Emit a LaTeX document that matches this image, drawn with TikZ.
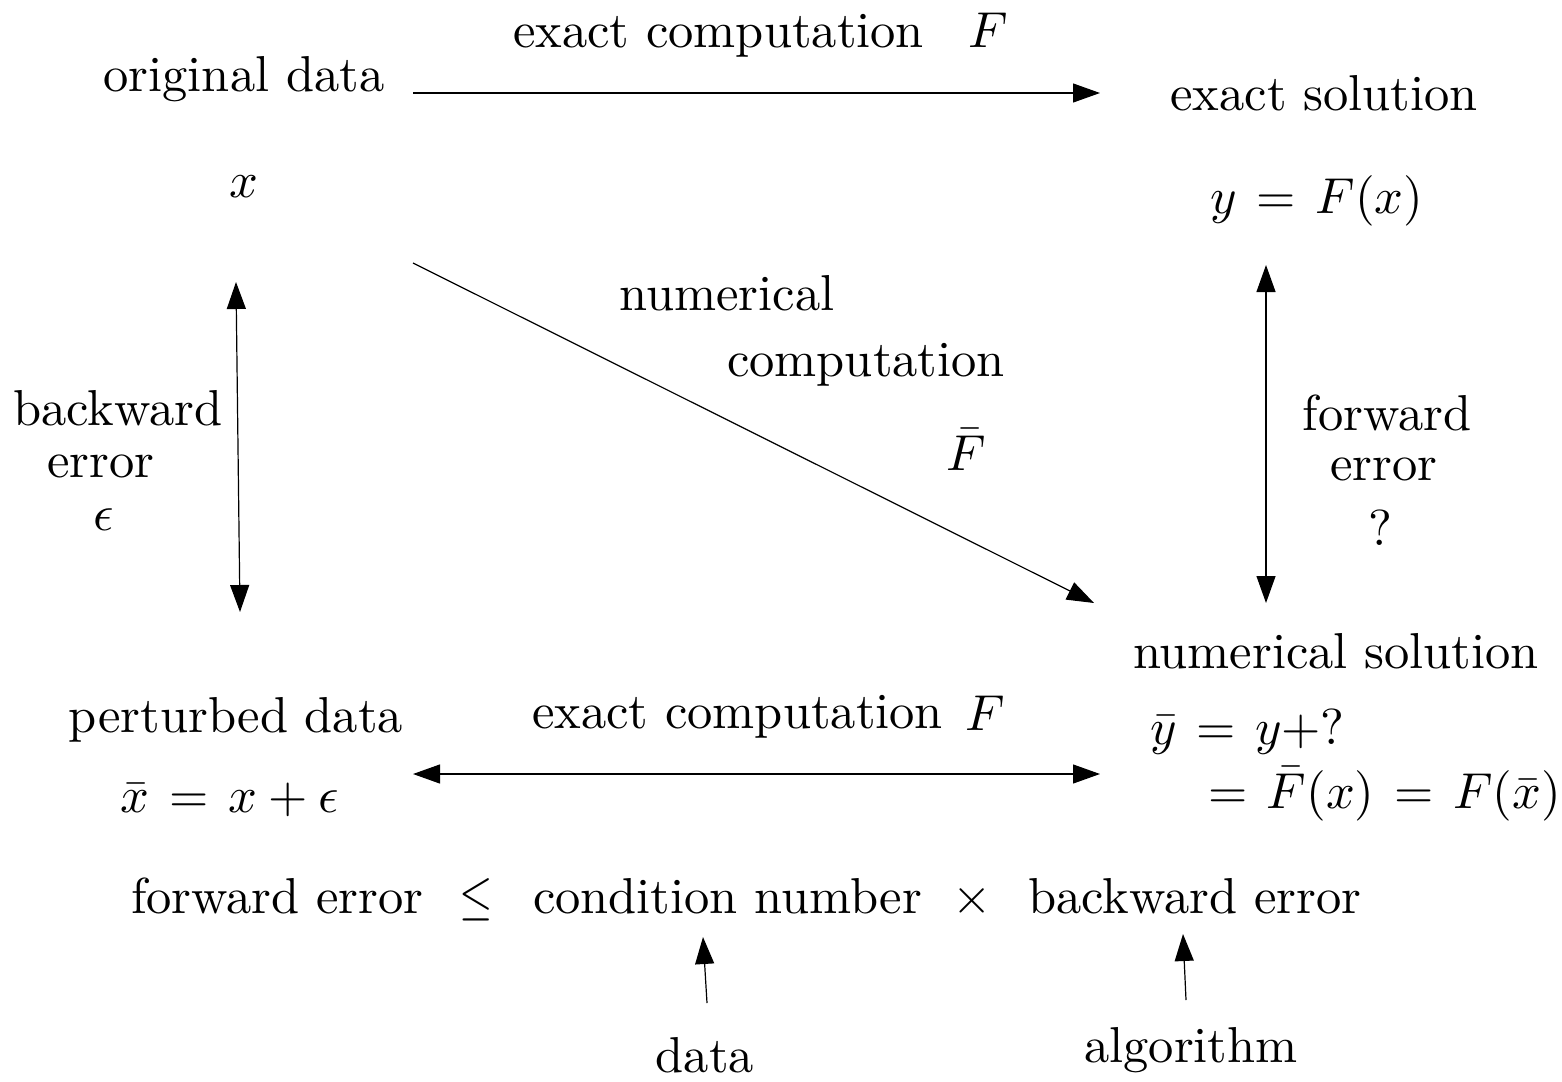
\documentclass[tikz,border=0pt]{standalone}
\usetikzlibrary{arrows.meta}
\thickmuskip=7mu plus 5mu
\begin{document}
\begin{tikzpicture}[x=1pt,y=-1pt,
  lbl/.style={inner sep=0pt, outer sep=0pt, scale=5.05, anchor=base},
  lblw/.style={lbl, anchor=base west},
  tip/.tip={Triangle[length=27pt,width=19pt]},
  conn/.style={line width=1.2pt, -tip},
  dconn/.style={line width=1.2pt, tip-tip}]
\useasboundingbox (0,0) rectangle (1562,1081);
% labels
\node[lbl] (od) at (244,92) {original data};
\node[lbl] (x) at (244,197) {$x$};
\node[lblw] (ec1) at (513,48) {exact computation};
\node[lblw] (F1) at (968,48) {$F$};
\node[lbl] (es) at (1324,110) {exact solution};
\node[lbl] (y) at (1317,213) {$y=F(x)$};
\node[lbl] (nc1) at (727,310) {numerical};
\node[lbl] (nc2) at (866,376) {computation};
\node[lbl] (Fb) at (966,470) {$\bar F$};
\node[lbl] (bw1) at (118,425) {backward};
\node[lbl] (bw2) at (101,477) {error};
\node[lbl] (eps) at (104,530) {$\epsilon$};
\node[lbl] (fw1) at (1387,430) {forward};
\node[lbl] (fw2) at (1384,480) {error};
\node[lbl] (q) at (1380,545) {?};
\node[lbl] (ns) at (1336,668) {numerical solution};
\node[lblw] (yb) at (1150,744) {$\bar y = y+?$};
\node[lblw] (Fx) at (1208,808) {$= \bar F(x) = F(\bar x)$};
\node[lbl] (pd) at (236,732) {perturbed data};
\node[lbl] (xb) at (230,812) {$\bar x = x+\epsilon$};
\node[lblw] (ec2) at (532,728) {exact computation};
\node[lblw] (F2) at (965,730) {$F$};
\node[lblw] (fe) at (131,913) {forward error};
\node[inner sep=0pt, outer sep=0pt, anchor=base west, xscale=4.3, yscale=5.5] (leq) at (459,913) {$\leq$};
\node[lblw] (cn) at (533,913) {condition number};
\node[lblw] (tm) at (952,913) {$\times$};
\node[lblw] (be) at (1028,913) {backward error};
\node[lbl] (data) at (705,1072) {data};
\node[lbl] (alg) at (1191,1062) {algorithm};
% connector end points
\coordinate (t1) at (413,93);   \coordinate (t2) at (1100,93);
\coordinate (d1) at (413,263);  \coordinate (d2) at (1094,603);
\coordinate (l1) at (236,282);  \coordinate (l2) at (240,612);
\coordinate (r1) at (1266,265); \coordinate (r2) at (1266,603);
\coordinate (b1) at (413,774);  \coordinate (b2) at (1100,774);
\coordinate (p1) at (707,1003); \coordinate (p2) at (703,937);
\coordinate (q1) at (1186,1000); \coordinate (q2) at (1183,934);
% connectors
\draw[conn] (t1) -- (t2);
\draw[conn] (d1) -- (d2);
\draw[dconn] (l1) -- (l2);
\draw[dconn] (r1) -- (r2);
\draw[dconn] (b1) -- (b2);
\draw[conn] (p1) -- (p2);
\draw[conn] (q1) -- (q2);
\end{tikzpicture}
\end{document}
